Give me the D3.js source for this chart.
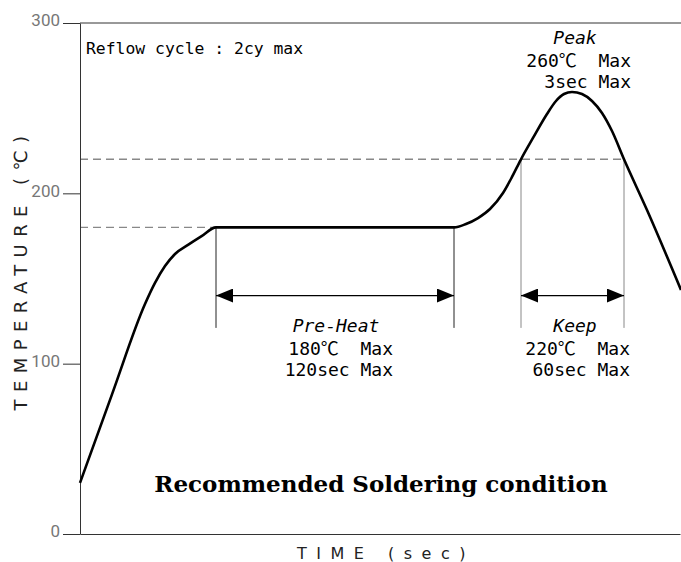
<!DOCTYPE html>
<html>
<head>
<meta charset="utf-8">
<script src="https://cdn.jsdelivr.net/npm/d3@7"></script>
<style>
  body { margin: 0; background: #fff; }
  svg { display: block; }
  .mono { font-family: "DejaVu Sans Mono", "Noto Sans CJK JP", monospace; white-space: pre; }
</style>
</head>
<body>
<div id="chart"></div>
<script>
// reflow profile (time in sec, temperature in degC)
var profileTime = [0, 16, 32.5, 37.5, 42.5, 47.5, 54, 61, 68, 187, 193, 199, 205, 211.5, 216, 220.5, 226.5, 233.5, 238, 242, 246, 251, 256, 261, 266, 272, 283.5, 300.5];
var profileTemp = [30, 82, 135, 147.4, 157.3, 164.4, 169.7, 175, 180, 180, 182, 185.5, 190.8, 200.2, 209.6, 220, 232.5, 246.6, 254.2, 258.3, 259.5, 258.3, 254.2, 247.2, 236.6, 220, 190.2, 143.3];

var yTicks = [0, 100, 200, 300];
var limitTemps = [180, 220];            // dashed guide lines
var limitEnds = [68, 272];              // where each dashed line stops (sec)
var preHeat = [68, 187];                // sec
var keepZone = [220.5, 272];            // sec

var preHeatText = ["Pre-Heat", "180℃  Max", "120sec Max"];
var keepText = ["Keep", "220℃  Max", "60sec Max"];
var peakText = ["Peak", "260℃  Max", "3sec Max"];

var margin = {top: 23, right: 1, bottom: 28, left: 80},
    width = 681 - margin.left - margin.right,
    height = 562 - margin.top - margin.bottom;

var x = d3.scaleLinear().domain([0, 300]).range([0, width]);
var y = d3.scaleLinear().domain([0, 300]).range([height, 0]);

var svg = d3.select("#chart").append("svg")
    .attr("width", 681)
    .attr("height", 562)
  .append("g")
    .attr("transform", "translate(" + margin.left + "," + margin.top + ")");

// arrow head
svg.append("defs").append("marker")
    .attr("id", "arrow")
    .attr("viewBox", "0 0 17 14")
    .attr("refX", 17).attr("refY", 7)
    .attr("markerWidth", 17).attr("markerHeight", 14)
    .attr("markerUnits", "userSpaceOnUse")
    .attr("orient", "auto-start-reverse")
  .append("path")
    .attr("d", "M0,0L17,7L0,14Z")
    .attr("fill", "#000");

// dashed guides
svg.selectAll(".guide").data(limitTemps).enter().append("line")
    .attr("class", "guide")
    .attr("x1", 0)
    .attr("x2", function(d, i) { return x(limitEnds[i]); })
    .attr("y1", function(d) { return y(d); })
    .attr("y2", function(d) { return y(d); })
    .attr("stroke", "#888")
    .attr("stroke-width", 1.3)
    .attr("stroke-dasharray", "8,5");

// axes
var yAxis = d3.axisLeft(y)
    .tickValues(yTicks)
    .tickSize(17)
    .tickSizeOuter(0)
    .tickPadding(3)
    .tickFormat(d3.format("d"));

var gy = svg.append("g").call(yAxis);
gy.selectAll("path, line").attr("stroke", "#333");
gy.selectAll("text")
    .attr("dy", "0.17em")
    .attr("fill", "#777")
    .style("font-family", "Roboto, sans-serif")
    .style("font-size", "17px");

svg.append("g")
    .attr("transform", "translate(0," + height + ")")
    .call(d3.axisBottom(x).ticks(0).tickSizeOuter(0))
    .selectAll("path").attr("stroke", "#333");

// top frame line
svg.append("line")
    .attr("x1", 0).attr("x2", width + 1)
    .attr("y1", y(300)).attr("y2", y(300))
    .attr("stroke", "#333");

// zone markers
var lineBottom = y(121), arrowY = y(140);

svg.selectAll(".pre-v").data(preHeat).enter().append("line")
    .attr("x1", function(d) { return x(d); })
    .attr("x2", function(d) { return x(d); })
    .attr("y1", y(180)).attr("y2", lineBottom)
    .attr("stroke", "#222");

svg.selectAll(".keep-v").data(keepZone).enter().append("line")
    .attr("x1", function(d) { return x(d); })
    .attr("x2", function(d) { return x(d); })
    .attr("y1", y(220)).attr("y2", lineBottom)
    .attr("stroke", "#888");

[preHeat, keepZone].forEach(function(z) {
  svg.append("line")
    .attr("x1", x(z[0])).attr("x2", x(z[1]))
    .attr("y1", arrowY).attr("y2", arrowY)
    .attr("stroke", "#000")
    .attr("stroke-width", 1.2)
    .attr("marker-start", "url(#arrow)")
    .attr("marker-end", "url(#arrow)");
});

// profile curve
var line = d3.line()
    .x(function(d) { return x(d[0]); })
    .y(function(d) { return y(d[1]); })
    .curve(d3.curveMonotoneX);

svg.append("path")
    .datum(d3.zip(profileTime, profileTemp))
    .attr("d", line)
    .attr("fill", "none")
    .attr("stroke", "#000")
    .attr("stroke-width", 2.6)
    .attr("stroke-linejoin", "round");

// annotation blocks
function block(lines, cx, right, y0) {
  svg.append("text")
    .attr("class", "mono")
    .attr("x", cx).attr("y", y0)
    .attr("text-anchor", "middle")
    .style("font-size", "18px")
    .style("font-style", "italic")
    .text(lines[0]);
  svg.selectAll(null).data(lines.slice(1)).enter().append("text")
    .attr("class", "mono")
    .attr("x", right)
    .attr("y", function(d, i) { return y0 + 23 + i * 21; })
    .attr("text-anchor", "end")
    .style("font-size", "18px")
    .text(function(d) { return d; });
}
block(preHeatText, (x(preHeat[0]) + x(preHeat[1])) / 2 + 1, 313, arrowY + 36);
block(keepText, 495, 550, arrowY + 36);
block(peakText, 495, 551, 21);

svg.append("text")
    .attr("class", "mono")
    .attr("x", 6).attr("y", 31)
    .style("font-size", "16.4px")
    .text("Reflow cycle : 2cy max");

svg.append("text")
    .attr("x", 301).attr("y", 469)
    .attr("text-anchor", "middle")
    .style("font-family", "'DejaVu Serif', serif")
    .style("font-weight", "bold")
    .style("font-size", "23px")
    .text("Recommended Soldering condition");

// axis titles
svg.append("text")
    .attr("transform", "translate(-53," + (height / 2 - 9) + ") rotate(-90)")
    .attr("text-anchor", "middle")
    .style("font-family", "'DejaVu Sans', sans-serif")
    .style("font-size", "18px")
    .style("letter-spacing", "7.4px")
    .attr("fill", "#222")
    .text("TEMPERATURE (℃)");

svg.append("text")
    .attr("x", 306).attr("y", height + 25)
    .attr("text-anchor", "middle")
    .style("font-family", "'DejaVu Sans', sans-serif")
    .style("font-size", "16px")
    .style("letter-spacing", "9.5px")
    .attr("fill", "#222")
    .text("TIME (sec)");
</script>
</body>
</html>
